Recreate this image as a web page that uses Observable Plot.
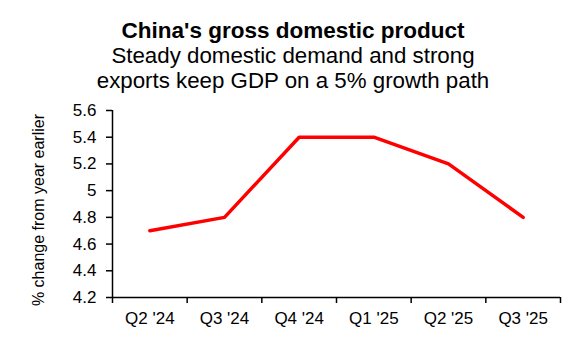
<!DOCTYPE html>
<html>
<head>
<meta charset="utf-8">
<script src="https://cdn.jsdelivr.net/npm/d3@7"></script>
<script src="https://cdn.jsdelivr.net/npm/@observablehq/plot@0.6"></script>
<style>
  body { margin: 0; background: #fff; font-family: "Liberation Sans", Arial, sans-serif; color: #000; }
  #wrap { width: 580px; }
  .head { text-align: center; padding-top: 18px; height: 77px; box-sizing: content-box; padding-left: 6px; }
  .title { font-weight: bold; font-size: 22.5px; line-height: 25px; }
  .sub { font-size: 22.3px; line-height: 25px; }
  svg { display: block; }
</style>
</head>
<body>
<div id="wrap">
  <div class="head">
    <div class="title">China's gross domestic product</div>
    <div class="sub">Steady domestic demand and strong<br>exports keep GDP on a 5% growth path</div>
  </div>
  <div id="chart"></div>
</div>
<script>
const categories = ["Q2 '24", "Q3 '24", "Q4 '24", "Q1 '25", "Q2 '25", "Q3 '25"];
const gdpGrowth = [4.7, 4.8, 5.4, 5.4, 5.2, 4.8];
const yTicks = [4.2, 4.4, 4.6, 4.8, 5, 5.2, 5.4, 5.6];
const yLabel = "% change from year earlier";

const data = categories.map((c, i) => ({ i, quarter: c, value: gdpGrowth[i] }));
const xDomain = [-0.5, categories.length - 0.5];
const boundaries = categories.map((_, i) => i - 0.5).concat([categories.length - 0.5]);
const centers = categories.map((_, i) => i);

const chart = Plot.plot({
  width: 580,
  height: 237,
  marginLeft: 112,
  marginRight: 20,
  marginTop: 15,
  marginBottom: 35,
  style: { fontFamily: "'Liberation Sans', Arial, sans-serif", fontSize: "17px", color: "#000", background: "#fff" },
  x: { domain: xDomain },
  y: { domain: [yTicks[0], yTicks[yTicks.length - 1]] },
  marks: [
    Plot.axisY({
      ticks: yTicks, tickSize: 6, tickPadding: 10, strokeWidth: 1.5,
      tickFormat: d => String(+d.toFixed(1)), label: null, fontSize: 17
    }),
    Plot.text([yLabel], { text: d => d, frameAnchor: "left", rotate: -90, dx: -74, dy: 6, fontSize: 16, textAnchor: "middle", fill: "#000" }),
    Plot.axisX({ ticks: boundaries, tickSize: 6, tickFormat: () => "", label: null, strokeWidth: 1.5 }),
    Plot.axisX({ ticks: centers, tickSize: 0, tickPadding: 14, tickFormat: i => categories[i], label: null, fontSize: 17 }),
    Plot.ruleX([xDomain[0]], { stroke: "#000", strokeWidth: 1.5 }),
    Plot.ruleY([yTicks[0]], { stroke: "#000", strokeWidth: 1.5 }),
    Plot.line(data, { x: "i", y: "value", stroke: "#ff0000", strokeWidth: 3.5 })
  ]
});
document.getElementById("chart").appendChild(chart);
</script>
</body>
</html>
